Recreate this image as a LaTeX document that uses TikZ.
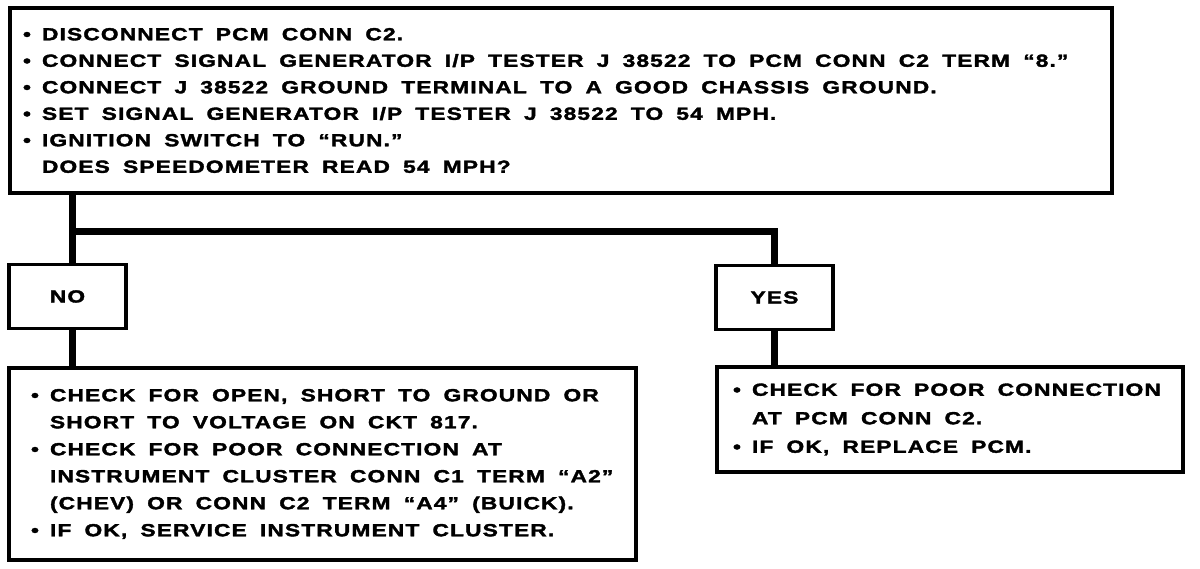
\documentclass[tikz,border=0pt]{standalone}
\usepackage{fontspec}
\setmainfont{Liberation Sans}[BoldFeatures={FakeStretch=1.3, LetterSpace=6.5, FakeBold=2}]
\newcommand{\wide}{\spaceskip=13.2pt\relax}
\newcommand{\itm}{\makebox[19pt][l]{•}}
\newcommand{\cnt}{\hspace*{19pt}}
\begin{document}
\begin{tikzpicture}[x=1pt, y=-1pt,
  box/.style = {shape=rectangle, draw, line width=3.5pt, align=left,
    inner ysep=0pt, font=\bfseries\fontsize{17.5}{26.5}\selectfont},
  answer/.style = {shape=rectangle, draw, line width=3.5pt,
    minimum width=117pt, minimum height=64pt, font=\bfseries\fontsize{17.5}{22}\selectfont},
  link/.style = {line width=7pt}]
  \useasboundingbox (0,0) rectangle (1200,568);
  \node [box, text width=1076pt, inner xsep=13pt, minimum height=185pt] (test) at (561,100.5)
    {\wide\itm DISCONNECT PCM CONN C2.\\
     \itm CONNECT SIGNAL GENERATOR I/P TESTER J 38522 TO PCM CONN C2 TERM “8.”\\
     \itm CONNECT J 38522 GROUND TERMINAL TO A GOOD CHASSIS GROUND.\\
     \itm SET SIGNAL GENERATOR I/P TESTER J 38522 TO 54 MPH.\\
     \itm IGNITION SWITCH TO “RUN.”\\
     \cnt DOES SPEEDOMETER READ 54 MPH?};
  \node [answer] (no) at (67.5,296.5) {NO};
  \node [answer] (yes) at (774.5,297.5) {YES};
  \node [box, text width=583pt, inner xsep=22pt, minimum height=192pt,
    font=\bfseries\fontsize{17.5}{27}\selectfont] (ckt) at (322.5,464)
    {\wide\itm CHECK FOR OPEN, SHORT TO GROUND OR\\
     \cnt SHORT TO VOLTAGE ON CKT 817.\\
     \itm CHECK FOR POOR CONNECTION AT\\
     \cnt INSTRUMENT CLUSTER CONN C1 TERM “A2”\\
     \cnt (CHEV) OR CONN C2 TERM “A4” (BUICK).\\
     \itm IF OK, SERVICE INSTRUMENT CLUSTER.};
  \node [box, text width=434pt, inner xsep=16pt, minimum height=105pt,
    font=\bfseries\fontsize{17.5}{28.5}\selectfont] (pcm) at (950,419.5)
    {\wide\itm CHECK FOR POOR CONNECTION\\
     \cnt AT PCM CONN C2.\\
     \itm IF OK, REPLACE PCM.};
  \coordinate (split) at (72,231.5);
  \draw [link] (test.south -| split) -- (no.north -| split);
  \draw [link] (no.south -| split) -- (ckt.north -| split);
  \draw [link] (split) -| (yes.north);
  \draw [link] (yes.south) -- (pcm.north -| yes.south);
\end{tikzpicture}
\end{document}
